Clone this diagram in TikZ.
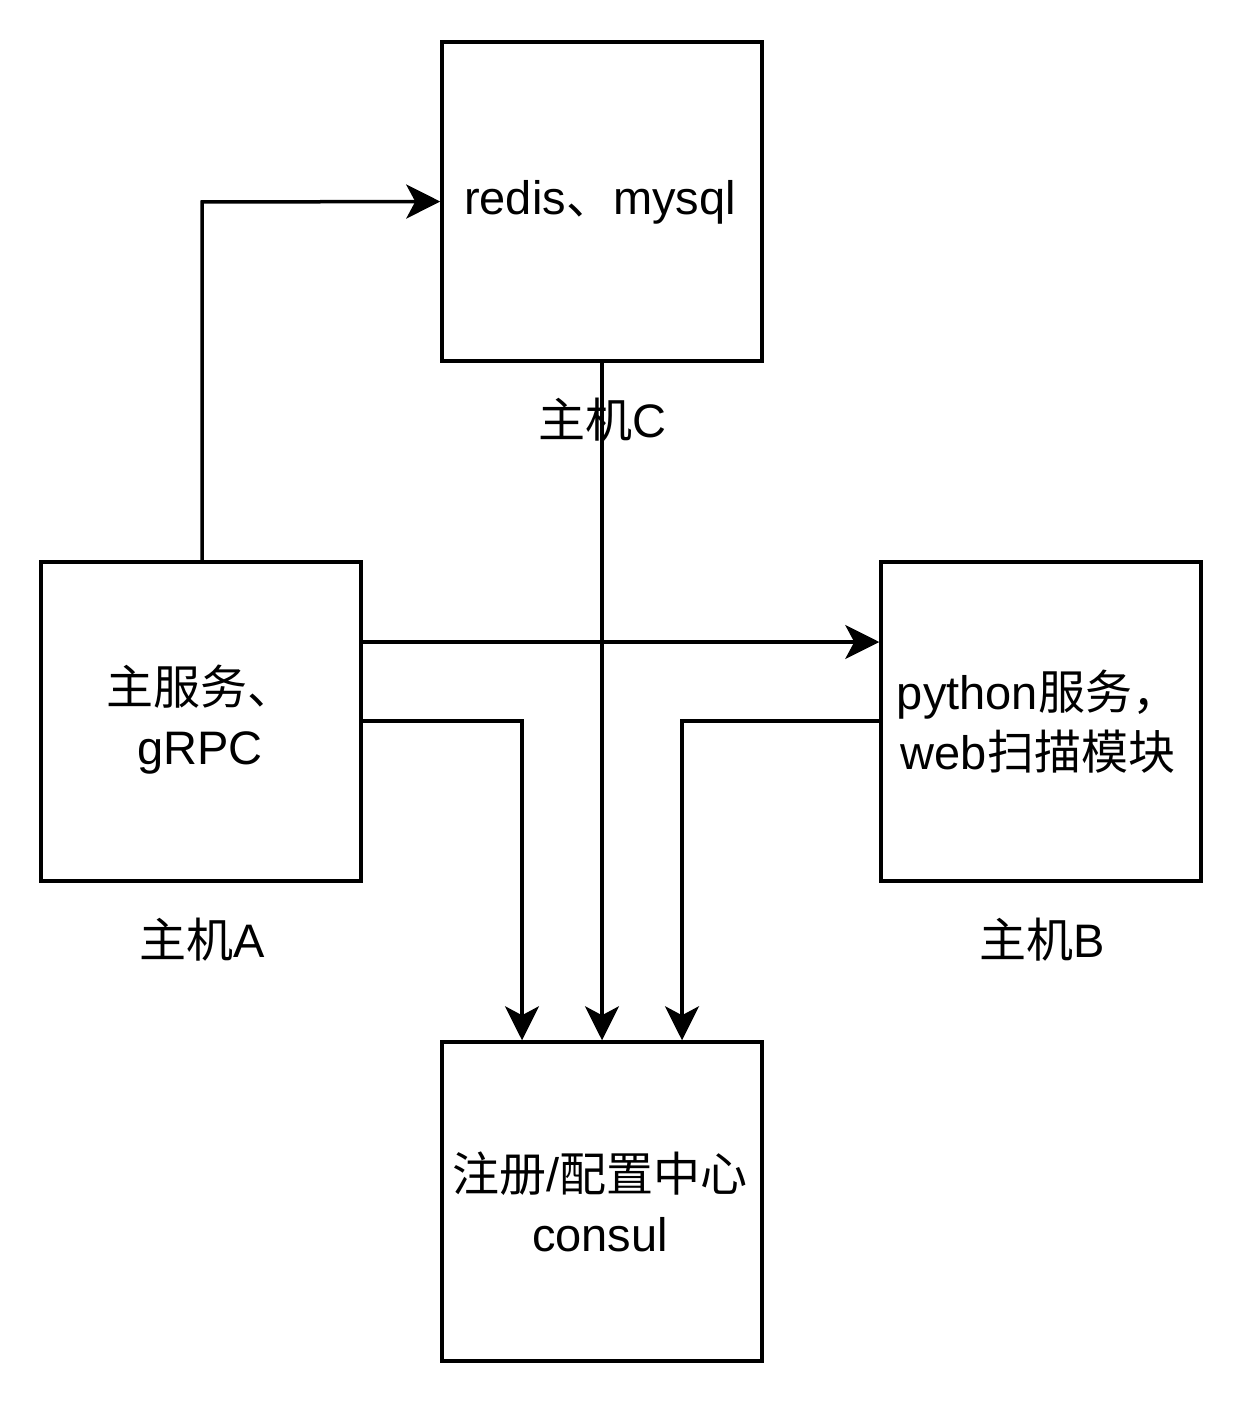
\documentclass[tikz,border=0pt]{standalone}
\usepackage{fontspec}
\setmainfont{Liberation Sans}
\newfontfamily\cjk{Noto Sans CJK SC}
\usetikzlibrary{arrows.meta}
\begin{document}
\begin{tikzpicture}[x=1pt,y=-1pt,
  box/.style={draw,line width=3.5pt,minimum width=320pt,minimum height=319pt,inner sep=0pt},
  txt/.style={font=\fontsize{47}{60}\selectfont,align=center,inner sep=0pt},
  conn/.style={line width=3.5pt,-{Stealth[length=34pt,width=34pt,inset=9pt]}}]
\useasboundingbox (0,0) rectangle (1244,1404);
\node[box] (C) at (602,201.5) {};
\node[box] (A) at (201,721.5) {};
\node[box] (B) at (1041,721.5) {};
\node[box] (D) at (602,1201.5) {};
\node[txt] (Ct) at (600,202) {redis{\cjk 、}mysql};
\node[txt] (At) at (200,720) {{\cjk 主服务、}\\gRPC};
\node[txt] (Bt) at (1038,722) {python{\cjk 服务，}\\web{\cjk 扫描模块}};
\node[txt] (Dt) at (600,1202) {{\cjk 注册}/{\cjk 配置中心}\\consul};
\node[txt] (Cl) at (602,420) {{\cjk 主机}C};
\node[txt] (Al) at (202,940) {{\cjk 主机}A};
\node[txt] (Bl) at (1042,940) {{\cjk 主机}B};
\coordinate (a1) at (202,202);
\coordinate (a2) at (522,721);
\coordinate (b2) at (682,721);
\draw[conn] (A.north -| a1) -- (a1) -- (C.west);
\draw[conn] (C.south) -- (D.north);
\draw[conn] (A.east |- 0,642) -- (B.west |- 0,642);
\draw[conn] (A.east |- a2) -- (a2) -- (a2 |- D.north);
\draw[conn] (B.west |- b2) -- (b2) -- (b2 |- D.north);
\end{tikzpicture}
\end{document}
